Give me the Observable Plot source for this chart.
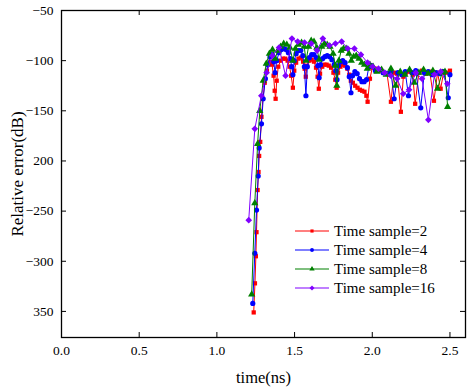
<!DOCTYPE html>
<html><head><meta charset="utf-8">
<script src="https://cdn.jsdelivr.net/npm/d3@7"></script>
<script src="https://cdn.jsdelivr.net/npm/@observablehq/plot@0.6"></script>
<style>
body{margin:0;background:#fff}
#wrap{position:relative;width:471px;height:388px;}
#legend{position:absolute;left:294px;top:222px;font-family:"Liberation Serif","Times New Roman",serif;font-size:15px;color:#000}
.row{display:flex;align-items:center;height:18.9px;white-space:nowrap}
.row svg{margin-right:4px;overflow:visible}
</style></head><body>
<div id="wrap"><div id="chart"></div><div id="legend"></div></div>
<script>
// ---- data (time in ns, relative error in dB) ----
const xTicks = [0, 0.5, 1, 1.5, 2, 2.5];
const xTickLabels = ["0.0", "0.5", "1.0", "1.5", "2.0", "2.5"];
const yTicks = [-50, -100, -150, -200, -250, -300, -350];
const yTickLabels = ["\u221250", "\u2212100", "\u2212150", "200", "\u2212250", "\u2212300", "350"];
const seriesNames = ["Time sample=2", "Time sample=4", "Time sample=8", "Time sample=16"];

const red = [
[1.237,-351],[1.245,-322],[1.251,-295],[1.255,-271],[1.262,-229],[1.268,-211],[1.272,-195],[1.279,-181],[1.287,-156],
[1.296,-138],[1.308,-122],[1.322,-110],[1.335,-103],[1.345,-101],[1.355,-104],[1.365,-115],[1.372,-130],[1.378,-138],
[1.385,-120],[1.395,-106],[1.41,-100],[1.425,-98],[1.44,-98],[1.455,-100],[1.468,-106],[1.478,-115],[1.489,-127],
[1.498,-110],[1.51,-102],[1.525,-98],[1.54,-97],[1.555,-101],[1.565,-108],[1.572,-116],[1.58,-105],[1.595,-100],
[1.61,-99],[1.625,-101],[1.638,-107],[1.648,-116],[1.656,-128],[1.664,-113],[1.678,-106],[1.692,-104],[1.706,-104],
[1.72,-105],[1.735,-107],[1.75,-112],[1.762,-119],[1.771,-127],[1.78,-112],[1.795,-106],[1.81,-104],[1.825,-105],
[1.84,-108],[1.852,-114],[1.862,-120],[1.875,-122],[1.89,-125],[1.905,-127],[1.92,-129],[1.935,-130],[1.95,-131],
[1.962,-135],[1.97,-141],[1.985,-118],[2.0,-107],[2.02,-108],[2.045,-110],[2.07,-112],[2.095,-113],[2.12,-141],
[2.14,-112],[2.16,-113],[2.184,-151],[2.2,-116],[2.216,-112],[2.24,-111],[2.26,-114],[2.276,-143],[2.3,-112],
[2.32,-110],[2.345,-113],[2.37,-111],[2.397,-140],[2.42,-112],[2.44,-128],[2.46,-111],[2.48,-112],[2.5,-110]
];
const blue = [
[1.231,-342],[1.244,-292],[1.255,-249],[1.266,-215],[1.272,-187],[1.287,-163],[1.298,-138],[1.312,-118],[1.327,-104],
[1.342,-96],[1.356,-94],[1.366,-101],[1.374,-112],[1.385,-100],[1.40,-92],[1.415,-89],[1.43,-88],[1.445,-89],[1.46,-92],
[1.472,-98],[1.482,-106],[1.489,-114],[1.498,-100],[1.51,-93],[1.525,-90],[1.54,-90],[1.553,-95],[1.563,-106],[1.573,-135],
[1.582,-106],[1.595,-97],[1.61,-94],[1.625,-94],[1.64,-97],[1.65,-105],[1.658,-117],[1.667,-104],[1.68,-98],[1.695,-96],
[1.71,-95],[1.725,-96],[1.74,-99],[1.755,-104],[1.765,-110],[1.773,-119],[1.782,-105],[1.795,-101],[1.81,-100],[1.825,-102],
[1.84,-107],[1.852,-116],[1.863,-132],[1.873,-115],[1.888,-111],[1.903,-113],[1.918,-118],[1.933,-121],[1.948,-121],
[1.963,-119],[1.978,-106],[1.995,-105],[2.02,-110],[2.045,-109],[2.07,-112],[2.095,-113],[2.12,-111],[2.141,-138],
[2.165,-112],[2.19,-114],[2.212,-111],[2.233,-135],[2.255,-112],[2.28,-110],[2.312,-147],[2.335,-112],[2.36,-111],
[2.385,-114],[2.41,-112],[2.435,-113],[2.46,-111],[2.489,-137],[2.5,-114]
];
const green = [
[1.224,-333],[1.244,-242],[1.262,-183],[1.276,-150],[1.298,-120],[1.318,-103],[1.338,-93],[1.358,-89],[1.375,-98],
[1.392,-90],[1.41,-86],[1.43,-83],[1.45,-84],[1.47,-87],[1.489,-100],[1.505,-88],[1.525,-84],[1.545,-82],[1.562,-86],
[1.574,-100],[1.59,-86],[1.607,-80],[1.625,-81],[1.643,-87],[1.658,-99],[1.675,-86],[1.692,-83],[1.71,-84],[1.728,-86],
[1.748,-93],[1.762,-105],[1.772,-125],[1.785,-100],[1.80,-90],[1.815,-88],[1.832,-88],[1.85,-93],[1.865,-100],[1.88,-96],
[1.897,-95],[1.915,-98],[1.932,-102],[1.95,-104],[1.968,-108],[1.985,-104],[2.005,-106],[2.03,-111],[2.06,-109],
[2.09,-114],[2.12,-108],[2.15,-125],[2.18,-111],[2.21,-114],[2.24,-109],[2.27,-122],[2.3,-112],[2.33,-109],[2.36,-113],
[2.39,-110],[2.42,-128],[2.45,-112],[2.468,-111],[2.485,-146]
];
const purple = [
[1.205,-259],[1.244,-168],[1.286,-135],[1.32,-112],[1.357,-95],[1.40,-87],[1.442,-115],[1.483,-78],[1.52,-81],
[1.564,-82],[1.607,-83],[1.645,-90],[1.682,-78],[1.724,-85],[1.763,-83],[1.803,-81],[1.842,-88],[1.885,-88],
[1.927,-94],[1.97,-102],[2.002,-106],[2.04,-108],[2.08,-112],[2.12,-115],[2.16,-118],[2.199,-133],[2.237,-129],
[2.28,-112],[2.32,-118],[2.361,-159],[2.40,-114],[2.44,-111],[2.483,-123]
];

// ---- styling ----
const colors = ["#ff0000", "#0000ff", "#008000", "#8000ff"];
const symbols = [d3.symbolSquare, d3.symbolCircle, d3.symbolTriangle, d3.symbolDiamond2];
const radii = [2.4, 2.6, 2.7, 3.0];
const seriesData = [red, blue, green, purple];

const W = 471, H = 388, mL = 61, mR = 6, mT = 10, mB = 51;
const plotW = W - mL - mR, plotH = H - mT - mB;
const serif = "'Liberation Serif','Times New Roman',serif";

const marks = [];
seriesData.forEach((arr, i) => {
  const rows = arr.map(([t, v]) => ({t, v}));
  marks.push(Plot.line(rows, {x: "t", y: "v", stroke: colors[i], strokeWidth: 1}));
  marks.push(Plot.dot(rows, {x: "t", y: "v", fill: colors[i], stroke: "none", symbol: symbols[i], r: radii[i]}));
});

const chart = Plot.plot({
  width: W, height: H,
  marginLeft: mL, marginRight: mR, marginTop: mT, marginBottom: mB,
  x: {domain: [0, 2.6]},
  y: {domain: [-376, -50]},
  style: {fontFamily: serif, fontSize: "13.5px", color: "#000", background: "#fff"},
  marks: [
    Plot.axisX({ticks: xTicks, tickSize: 0, tickPadding: 8, tickFormat: d => xTickLabels[xTicks.indexOf(d)], label: null, fontSize: 13.5}),
    Plot.axisY({ticks: yTicks, tickSize: 0, tickPadding: 8, tickFormat: d => yTickLabels[yTicks.indexOf(d)], label: null, fontSize: 13.5}),
    Plot.tickX(xTicks, {x: d => d, insetTop: plotH - 5, stroke: "#000"}),
    Plot.tickX(xTicks, {x: d => d, insetBottom: plotH - 5, stroke: "#000"}),
    Plot.tickY(yTicks, {y: d => d, insetRight: plotW - 5, stroke: "#000"}),
    Plot.tickY(yTicks, {y: d => d, insetLeft: plotW - 5, stroke: "#000"}),
    ...marks,
    Plot.frame({stroke: "#000", strokeWidth: 1.3}),
    Plot.text(["time(ns)"], {frameAnchor: "bottom", text: d => d, dy: 40, fontSize: 16.5, textAnchor: "middle", lineAnchor: "middle", fill: "#000"}),
    Plot.text(["Relative error(dB)"], {frameAnchor: "left", text: d => d, dx: -44, dy: 0, rotate: -90, fontSize: 17, textAnchor: "middle", lineAnchor: "middle", fill: "#000"})
  ]
});
document.getElementById("chart").appendChild(chart);

// ---- legend ----
const legend = d3.select("#legend");
seriesNames.forEach((name, i) => {
  const row = legend.append("div").attr("class", "row");
  const svg = row.append("svg").attr("width", 36).attr("height", 12);
  svg.append("line").attr("x1", 1).attr("x2", 35).attr("y1", 6).attr("y2", 6)
     .attr("stroke", colors[i]).attr("stroke-width", 1.2);
  svg.append("path").attr("transform", "translate(18,6)")
     .attr("d", d3.symbol(symbols[i], radii[i] * radii[i] * Math.PI * 0.55)())
     .attr("fill", colors[i]);
  row.append("span").text(name);
});
</script>
</body></html>
